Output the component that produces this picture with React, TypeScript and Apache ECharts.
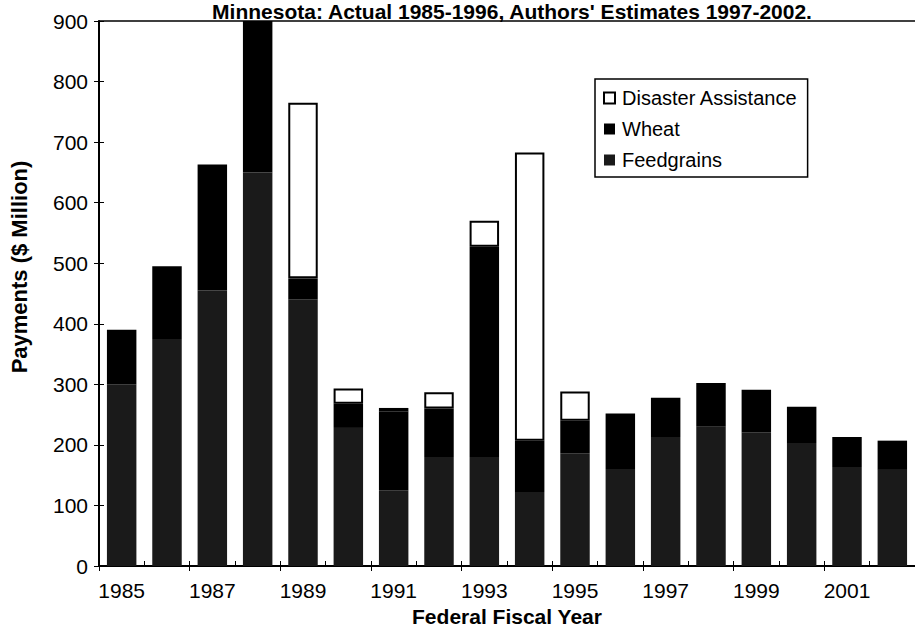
import React, { useEffect, useRef } from "react";
import * as echarts from "echarts";

const years = ["1985","1986","1987","1988","1989","1990","1991","1992","1993","1994","1995","1996","1997","1998","1999","2000","2001","2002"];
const feedgrains = [300, 375, 455, 650, 440, 228, 125, 180, 180, 122, 186, 160, 213, 230, 221, 203, 162, 160];
const wheat = [90, 120, 208, 250, 35, 40, 130, 80, 347, 85, 54, 92, 65, 72, 70, 60, 51, 47];
const disaster = [null, null, null, null, 290, 25, 6, 27, 43, 476, 48, null, null, null, null, null, null, null];
const legendNames = ["Disaster Assistance", "Wheat", "Feedgrains"];
const titleText = "Minnesota: Actual 1985-1996, Authors' Estimates 1997-2002.";
const yTitle = "Payments ($ Million)";
const xTitle = "Federal Fiscal Year";

const FONT = "'Liberation Sans', Arial, Helvetica, sans-serif";

export default function App() {
  const ref = useRef<HTMLDivElement>(null);
  useEffect(() => {
    if (!ref.current) return;
    const chart = echarts.init(ref.current, null, { renderer: "svg" });
    chart.setOption({
      animation: false,
      backgroundColor: "#fff",
      textStyle: { fontFamily: FONT, color: "#000" },
      graphic: [
        {
          type: "text",
          x: 512,
          y: 1,
          style: {
            text: titleText,
            textAlign: "center",
            textVerticalAlign: "top",
            fontFamily: FONT,
            fontWeight: "bold",
            fontSize: 21,
            fill: "#000",
          },
        },
        {
          type: "text",
          x: 19,
          y: 267,
          rotation: Math.PI / 2,
          style: {
            text: yTitle,
            textAlign: "center",
            textVerticalAlign: "middle",
            fontFamily: FONT,
            fontWeight: "bold",
            fontSize: 22,
            fill: "#000",
          },
        },
      ],
      legend: {
        orient: "vertical",
        left: 595,
        top: 79,
        data: legendNames,
        icon: "rect",
        itemWidth: 11,
        itemHeight: 11,
        itemGap: 11,
        padding: [9, 10, 7, 8],
        borderColor: "#000",
        borderWidth: 1.5,
        textStyle: { fontFamily: FONT, fontSize: 20, color: "#000", padding: [0, 0, 0, 2] },
      },
      grid: { left: 99, top: 21, width: 826, height: 545, containLabel: false },
      xAxis: [
        {
          type: "category",
          data: years,
          boundaryGap: true,
          name: xTitle,
          nameLocation: "middle",
          nameGap: 35,
          nameTextStyle: { fontFamily: FONT, fontWeight: "bold", fontSize: 21, color: "#000" },
          axisLine: { lineStyle: { color: "#000", width: 2 } },
          axisTick: { show: true, length: 5, inside: false, lineStyle: { color: "#000" } },
          axisLabel: { interval: 1, fontFamily: FONT, fontSize: 21, color: "#000", margin: 14 },
        },
        {
          type: "category",
          data: years,
          position: "bottom",
          axisLine: { show: false },
          axisTick: { show: true, length: 5, inside: true, lineStyle: { color: "#000" } },
          axisLabel: { show: false },
        },
        {
          type: "category",
          data: years,
          position: "top",
          axisLine: { show: true, lineStyle: { color: "#000", width: 1.5 } },
          axisTick: { show: false },
          axisLabel: { show: false },
        },
      ],
      yAxis: [
        {
          type: "value",
          min: 0,
          max: 900,
          interval: 100,
          axisLine: { show: true, lineStyle: { color: "#000", width: 2 } },
          axisTick: { show: true, length: 5, lineStyle: { color: "#000" } },
          axisLabel: { fontFamily: FONT, fontSize: 21, color: "#000", margin: 11 },
          splitLine: { show: false },
        },
        {
          type: "value",
          min: 0,
          max: 900,
          interval: 100,
          position: "left",
          axisLine: { show: false },
          axisTick: { show: true, inside: true, length: 5, lineStyle: { color: "#000" } },
          axisLabel: { show: false },
          splitLine: { show: false },
        },
      ],
      series: [
        {
          name: "Feedgrains",
          type: "bar",
          stack: "total",
          barWidth: "65%",
          data: feedgrains,
          itemStyle: { color: "#1a1a1a" },
        },
        {
          name: "Wheat",
          type: "bar",
          stack: "total",
          data: wheat,
          itemStyle: { color: "#000" },
        },
        {
          name: "Disaster Assistance",
          type: "bar",
          stack: "total",
          data: disaster,
          itemStyle: { color: "#fff", borderColor: "#000", borderWidth: 2 },
        },
      ],
    });
    return () => chart.dispose();
  }, []);
  return <div ref={ref} style={{ width: 915, height: 636, position: "absolute", left: 0, top: 0 }} />;
}
